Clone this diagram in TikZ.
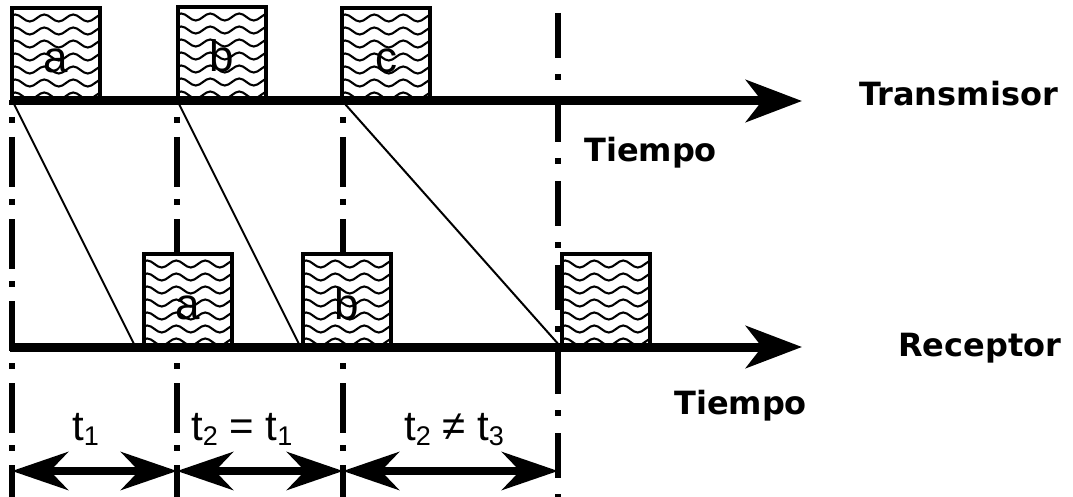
\documentclass[tikz,border=0pt]{standalone}
\usepackage{fontspec}
\setmainfont{Liberation Sans}
\newfontfamily\titlefont{DejaVu Sans}
\usetikzlibrary{arrows.meta,calc}
\newcommand{\sbs}[1]{\raisebox{-0.12em}{\fontsize{27}{27}\selectfont #1}}
\begin{document}
\begin{tikzpicture}[x=1pt,y=-1pt,
  axis/.style={line width=9pt,-{Stealth[length=56pt,width=42pt,inset=16pt]}},
  span/.style={line width=8pt,{Stealth[length=56pt,width=38pt,inset=18pt]}-{Stealth[length=56pt,width=38pt,inset=18pt]}},
  vline/.style={line width=5.5pt,dash pattern=on 50pt off 12pt on 6pt off 14pt,dash phase=45pt},
  vlineR/.style={line width=5.5pt,dash pattern=on 45pt off 16pt on 6pt off 17pt},
  diag/.style={line width=2pt},
  wave/.style={line width=2.1pt},
  pkt/.style={draw,line width=4.5pt,fill=white,minimum width=88pt,minimum height=92pt,
    inner sep=0pt,text height=38pt,text depth=0pt,font=\fontsize{44}{44}\selectfont,
    path picture={
      \foreach \r in {10,23,...,88}
        \draw[wave] ($(path picture bounding box.north west)+(-4,\r)$) \foreach \k in {0,...,3} {sin ++(7.25,-3.5) cos ++(7.25,3.5) sin ++(7.25,3.5) cos ++(7.25,-3.5)};
      }},
  title/.style={font=\titlefont\bfseries\fontsize{32}{32}\selectfont,inner sep=0pt,anchor=base west},
  tlab/.style={font=\fontsize{42}{42}\selectfont,inner sep=0pt,anchor=base west}]
\useasboundingbox (0,0) rectangle (1073,497);
% coordinates
\coordinate (ts) at (10,101);  \coordinate (te) at (802,101);
\coordinate (rs) at (10,347);  \coordinate (re) at (802,347);
\coordinate (v1a) at (12,100); \coordinate (v1b) at (12,497);
\coordinate (v2a) at (177,100); \coordinate (v2b) at (177,497);
\coordinate (v3a) at (343,100); \coordinate (v3b) at (343,497);
\coordinate (v4a) at (558,13); \coordinate (v4b) at (558,497);
\coordinate (d1a) at (14,104); \coordinate (d1b) at (135,346);
\coordinate (d2a) at (179,104); \coordinate (d2b) at (300,346);
\coordinate (d3a) at (345,104); \coordinate (d3b) at (560,346);
\coordinate (s0) at (12,471); \coordinate (s1) at (177,471);
\coordinate (s2) at (343,471); \coordinate (s3) at (558,471);
% vertical dash-dot lines
\draw[vline] (v1a) -- (v1b);
\draw[vline] (v2a) -- (v2b);
\draw[vline] (v3a) -- (v3b);
\draw[vlineR] (v4a) -- (v4b);
% diagonals
\draw[diag] (d1a) -- (d1b);
\draw[diag] (d2a) -- (d2b);
\draw[diag] (d3a) -- (d3b);
% packets
\node[pkt] (ta) at (56,54) {a};
\node[pkt] (tb) at (222,53) {b};
\node[pkt] (tc) at (386,54) {c};
\node[pkt] (ra) at (188,300) {a};
\node[pkt] (rb) at (347,300) {b};
\node[pkt] (rc) at (606,300) {};
% axes
\draw[axis] (ts) -- (te);
\draw[axis] (rs) -- (re);
% spans
\draw[span] (s0) -- (s1);
\draw[span] (s1) -- (s2);
\draw[span] (s2) -- (s3);
% labels
\node[title] (trans) at (859,106) {Transmisor};
\node[title] (tiem1) at (584,162) {Tiempo};
\node[title] (recep) at (898,356) {Receptor};
\node[title] (tiem2) at (674,414) {Tiempo};
\node[tlab] (l1) at (72,440) {t\sbs{1}};
\node[tlab] (l2) at (191,440) {t\sbs{2} = t\sbs{1}};
\node[tlab] (l3) at (404,440) {t\sbs{2} ≠ t\sbs{3}};
\end{tikzpicture}
\end{document}
